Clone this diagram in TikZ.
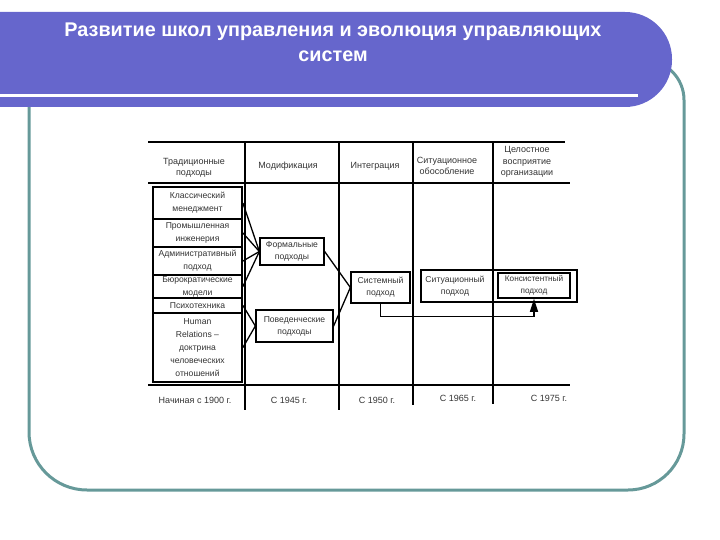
\documentclass[tikz,border=0pt]{standalone}
\usepackage{fontspec}
\setmainfont{Liberation Sans}
\usepackage{tikz}
\usetikzlibrary{arrows.meta,positioning}
\definecolor{bannerblue}{RGB}{102,102,204}
\definecolor{frameteal}{RGB}{102,153,153}

\begin{document}
\begin{tikzpicture}[
  x=1pt, y=-1pt,
  txt/.style={font=\fontsize{9}{11.5}\selectfont, text=black!80, align=center, inner sep=0pt},
  leftbox/.style={rectangle, draw, line width=1.8pt, minimum width=89pt, inner sep=0.5pt,
              align=center, text=black!80, font=\fontsize{8.6}{13}\selectfont},
  appbox/.style={rectangle, draw, line width=1.3pt, inner sep=0pt,
              align=center, text=black!80, font=\fontsize{8.6}{12}\selectfont},
  grid/.style={line width=1.3pt},
  conn/.style={line width=1.3pt},
  flow/.style={-{Triangle[width=8pt,length=13pt]}, line width=1.3pt}
]
\useasboundingbox (0,0) rectangle (720,540);

% рамка слайда
\draw[frameteal, line width=3pt] (29,100) -- (29,432)
  arc[start angle=180, end angle=90, radius=58] -- (628,490)
  arc[start angle=90, end angle=0, radius=56] -- (684,100)
  arc[start angle=0, end angle=-90, radius=40] -- (600,60);

% заголовок
\fill[bannerblue] (0,12) [rounded corners=47] -- (672,12) -- (672,107) [sharp corners] -- (0,107) -- cycle;
\draw[white, line width=3pt] (0,95.5) -- (638,95.5);
\node[font=\bfseries\fontsize{19.8}{25}\selectfont, text=white, align=center] (heading) at (333,42)
  {Развитие школ управления и эволюция управляющих\\систем};

% сетка таблицы
\draw[grid] (148,142) -- (565,142);
\draw[grid] (148,183) -- (570,183);
\draw[grid] (148,385) -- (570,385);
\draw[grid] (245,142) -- (245,410);
\draw[grid] (339,142) -- (339,410);
\draw[grid] (413,142) -- (413,405);
\draw[grid] (493,142) -- (493,404);

% шапка
\node[txt] (hTrad) at (194,168) {Традиционные\\подходы};
\node[txt] (hMod) at (288,166) {Модификация};
\node[txt] (hInt) at (375,166) {Интеграция};
\node[txt] (hSit) at (447,166) {Ситуационное\\обособление};
\node[txt] (hWhole) at (527,162) {Целостное\\восприятие\\организации};

% традиционные подходы
\node[leftbox, minimum height=32pt] (classic) at (197.5,203) {Классический\\менеджмент};
\node[leftbox, minimum height=28pt] (industrial) at (197.5,233) {Промышленная\\инженерия};
\node[leftbox, minimum height=28pt] (admin) at (197.5,261) {Административный\\подход};
\node[leftbox, minimum height=23pt] (bureau) at (197.5,286.5) {Бюрократические\\модели};
\node[leftbox, minimum height=15pt] (psycho) at (197.5,305.5) {Психотехника};
\node[leftbox, minimum height=69pt] (human) at (197.5,347.5) {Human\\Relations --\\доктрина\\человеческих\\отношений};

% модификация и интеграция
\node[appbox, minimum width=64pt, minimum height=27pt] (formal) at (292,251.5) {Формальные\\подходы};
\node[appbox, minimum width=77pt, minimum height=32pt] (behav) at (294.5,326) {Поведенческие\\подходы};
\node[appbox, minimum width=59pt, minimum height=31pt] (systemic) at (380.5,287.5) {Системный\\подход};

% ситуационный и консистентный
\node[appbox, line width=1.8pt, minimum width=156pt, minimum height=32pt] (situat) at (499,286) {};
\node[txt, font=\fontsize{8.6}{12}\selectfont] (situattext) at (455,286) {Ситуационный\\подход};
\node[appbox, line width=1.6pt, minimum width=72pt, minimum height=25pt, font=\fontsize{8.2}{12}\selectfont] (consist) at (534,285.5) {Консистентный\\подход};

% связи
\draw[conn] (classic.east) -- (formal.west);
\draw[conn] (industrial.east) -- (formal.west);
\draw[conn] (admin.east) -- (formal.west);
\draw[conn] (bureau.east) -- (formal.west);
\draw[conn] (psycho.east) -- (behav.west);
\draw[conn] (human.east) -- (behav.west);
\draw[conn] (formal.east) -- (systemic.west);
\draw[conn] (behav.east) -- (systemic.west);
\draw[flow] (systemic.south) -- ++(0,13) -| (consist.south);

% годы
\node[txt] (y1900) at (195,400) {Начиная с 1900 г.};
\node[txt] (y1945) at (289,400) {С 1945 г.};
\node[txt] (y1950) at (377,400) {С 1950 г.};
\node[txt] (y1965) at (458,398) {С 1965 г.};
\node[txt] (y1975) at (549,398) {С 1975 г.};

\end{tikzpicture}
\end{document}
